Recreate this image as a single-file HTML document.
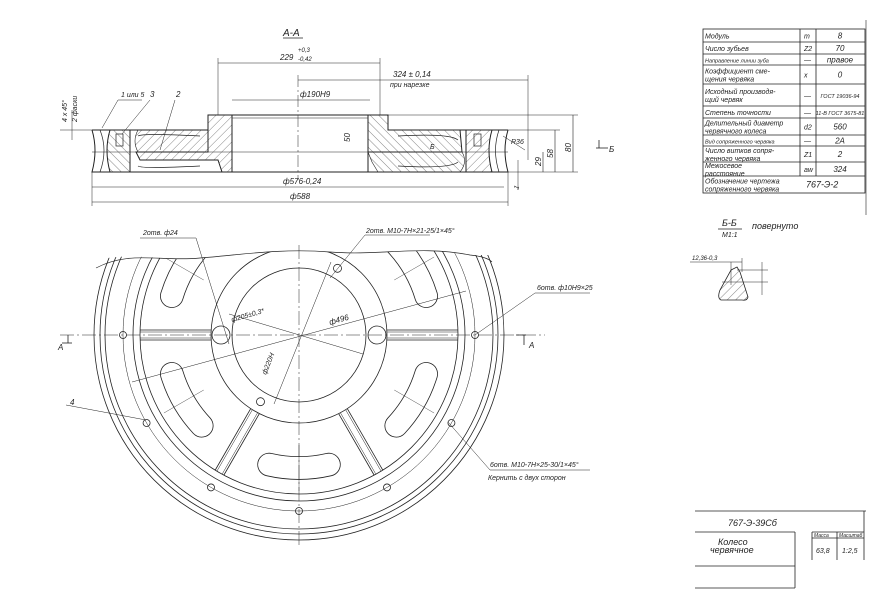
<!DOCTYPE html>
<html><head><meta charset="utf-8">
<style>
html,body{margin:0;padding:0;background:#fff}
svg{display:block}
text{font-family:"Liberation Sans","DejaVu Sans",sans-serif;font-style:italic;fill:#222}
</style></head><body>
<svg id="s" width="874" height="600" viewBox="0 0 874 600" xmlns="http://www.w3.org/2000/svg">
<defs>
<pattern id="h" width="6" height="6" patternUnits="userSpaceOnUse" patternTransform="rotate(45)"><line x1="0" y1="0" x2="0" y2="6" stroke="#333" stroke-width="0.6"/></pattern>
<pattern id="h2" width="6" height="6" patternUnits="userSpaceOnUse" patternTransform="rotate(-45)"><line x1="0" y1="0" x2="0" y2="6" stroke="#333" stroke-width="0.6"/></pattern>
<clipPath id="cut"><path d="M90,262 C130,250 160,262 200,258 C240,255 280,248 330,252 C380,256 420,245 470,255 L500,255 L520,600 L60,600 Z"/></clipPath>
</defs>
<g fill="none" stroke="#222" stroke-width="1">
<text x="283" y="36" font-size="10" stroke="none">А-А</text>
<line x1="283" y1="38" x2="303" y2="38" stroke-width="0.7"/>
<path d="M208,115 H388 V130 H508 M208,115 V130 H92" />
<path d="M92,130 Q98,150 92,172 H508 Q502,150 508,130" />
<line x1="92" y1="152" x2="508" y2="152" stroke-width="0.6"/>
<line x1="232" y1="115" x2="232" y2="172"/>
<line x1="368" y1="115" x2="368" y2="172"/>
<line x1="232" y1="118" x2="368" y2="118" stroke-width="0.6"/>
<path d="M208,115 H232 V172 H222 L218,160 H140 L136,152 H208 Z" fill="url(#h)" />
<path d="M138,130 H208 V152 H138 Q132,141 138,130Z" fill="url(#h)" stroke-width="0.6"/>
<path d="M368,115 H388 V130 H460 L462,152 H368 Z" fill="url(#h2)"/>
<path d="M368,152 H462 Q468,162 460,172 H378 L372,162 Z" fill="url(#h2)" stroke-width="0.6"/>
<path d="M110,130 H130 V172 H110 Q104,150 110,130Z" fill="url(#h2)"/>
<path d="M466,130 H492 Q486,150 492,172 H466 Z" fill="url(#h)"/>
<path d="M138,136 Q142,133 200,136 M138,166 Q142,169 200,166" stroke-width="0.7"/>
<path d="M398,136 Q450,133 458,140 M398,166 Q450,169 458,162" stroke-width="0.7"/>
<rect x="116" y="134" width="7" height="12" stroke-width="0.7"/>
<rect x="474" y="134" width="7" height="12" stroke-width="0.7"/>
<path d="M100,130 Q108,150 100,172 M499,130 Q492,150 499,172" stroke-width="0.7"/>
<line x1="298" y1="75" x2="298" y2="180" stroke-width="0.5" stroke-dasharray="12,3,2,3"/>
<line x1="218" y1="63" x2="380" y2="63" stroke-width="0.6"/>
<line x1="218" y1="58" x2="218" y2="115" stroke-width="0.5"/>
<line x1="380" y1="58" x2="380" y2="115" stroke-width="0.5"/>
<line x1="298" y1="80" x2="528" y2="80" stroke-width="0.6"/>
<line x1="528" y1="75" x2="528" y2="160" stroke-width="0.5"/>
<line x1="232" y1="100" x2="370" y2="100" stroke-width="0.6"/>
<line x1="92" y1="187" x2="504" y2="187" stroke-width="0.6"/>
<line x1="92" y1="202" x2="508" y2="202" stroke-width="0.6"/>
<line x1="92" y1="172" x2="92" y2="206" stroke-width="0.5"/>
<line x1="508" y1="172" x2="508" y2="206" stroke-width="0.5"/>
<line x1="388" y1="115" x2="578" y2="115" stroke-width="0.5"/>
<line x1="508" y1="130" x2="560" y2="130" stroke-width="0.5"/>
<line x1="508" y1="172" x2="578" y2="172" stroke-width="0.5"/>
<line x1="573" y1="115" x2="573" y2="172" stroke-width="0.6"/>
<line x1="555" y1="130" x2="555" y2="172" stroke-width="0.6"/>
<line x1="543" y1="152" x2="543" y2="172" stroke-width="0.6"/>
<line x1="518" y1="160" x2="518" y2="190" stroke-width="0.5"/>
<line x1="72" y1="110" x2="72" y2="140" stroke-width="0.5"/>
<line x1="60" y1="130" x2="92" y2="130" stroke-width="0.5"/>
<line x1="596" y1="148" x2="608" y2="148" stroke-width="0.8"/>
<line x1="599" y1="140" x2="599" y2="148" stroke-width="0.8"/>
<line x1="102" y1="128" x2="118" y2="100" stroke-width="0.5"/><line x1="118" y1="100" x2="142" y2="100" stroke-width="0.5"/>
<line x1="122" y1="134" x2="150" y2="100" stroke-width="0.5"/>
<line x1="160" y1="150" x2="175" y2="100" stroke-width="0.5"/>
<line x1="503" y1="136" x2="525" y2="150" stroke-width="0.5"/>
</g>
<g stroke="none" font-size="8">
<text x="280" y="60">229</text><text x="298" y="52" font-size="6">+0,3</text><text x="298" y="61" font-size="6">-0,42</text>
<text x="393" y="77">324 ± 0,14</text><text x="390" y="87" font-size="7">при нарезке</text>
<text x="300" y="97">ф190Н9</text>
<text x="283" y="184">ф576-0,24</text>
<text x="290" y="199">ф588</text>
<text x="121" y="97" font-size="7">1 или 5</text><text x="150" y="97">3</text><text x="176" y="97">2</text>
<text x="430" y="149" font-size="7">Б</text>
<text x="511" y="144" font-size="7">R36</text>
<text transform="translate(350,142) rotate(-90)">50</text>
<text transform="translate(541,166) rotate(-90)">29</text>
<text transform="translate(553,158) rotate(-90)">58</text>
<text transform="translate(571,152) rotate(-90)">80</text>
<text transform="translate(518,190) rotate(-70)" font-size="7">1</text>
<text transform="translate(67,122) rotate(-90)" font-size="7">4 x 45°</text>
<text transform="translate(77,122) rotate(-90)" font-size="7">2 фаски</text>
<text x="609" y="152">Б</text>
<text x="722" y="226" font-size="9">Б-Б</text><text x="752" y="229" font-size="9">повернуто</text>
<text x="722" y="237" font-size="7">М1:1</text>
<text x="692" y="260" font-size="6">12,36-0,3</text>
</g>
<g fill="none" stroke="#222" stroke-width="0.8">
<line x1="718" y1="229" x2="742" y2="229"/>
<path d="M731,270 L737,267 L740,272 L748,297 Q747,301 742,300 H721 Q717,298 720,290 Z" fill="url(#h)"/>
<line x1="690" y1="262" x2="742" y2="262" stroke-width="0.5"/>
<line x1="731" y1="262" x2="731" y2="285" stroke-width="0.5"/>
<line x1="742" y1="258" x2="742" y2="272" stroke-width="0.5"/>
<line x1="737" y1="270" x2="768" y2="270" stroke-width="0.5"/>
<line x1="722" y1="282" x2="768" y2="282" stroke-width="0.5"/>
<line x1="762" y1="262" x2="762" y2="295" stroke-width="0.5"/>
</g>
<g id="plan" fill="none" stroke="#222" stroke-width="0.8" clip-path="url(#cut)"></g>
<g fill="none" stroke="#222" stroke-width="0.8">
<path d="M96,268 C130,250 160,262 200,258 C240,255 280,248 330,252 C380,256 420,245 470,255 C480,256 488,258 492,262" stroke-width="0.7"/>
<line x1="60" y1="335" x2="545" y2="335" stroke-width="0.5" stroke-dasharray="14,3,2,3"/>
<line x1="299" y1="245" x2="299" y2="548" stroke-width="0.5" stroke-dasharray="14,3,2,3"/>
<line x1="62" y1="343" x2="72" y2="343"/><line x1="68" y1="335" x2="68" y2="343"/>
<line x1="516" y1="335" x2="526" y2="335"/><line x1="524" y1="335" x2="524" y2="345"/>
<line x1="140" y1="238" x2="196" y2="238" stroke-width="0.5"/><line x1="196" y1="238" x2="229" y2="344" stroke-width="0.5"/>
<line x1="365" y1="235" x2="430" y2="235" stroke-width="0.5"/><line x1="365" y1="235" x2="330" y2="278" stroke-width="0.5"/>
<line x1="535" y1="293" x2="590" y2="293" stroke-width="0.5"/><line x1="535" y1="293" x2="475" y2="335" stroke-width="0.5"/>
<line x1="490" y1="470" x2="590" y2="470" stroke-width="0.5"/><line x1="490" y1="470" x2="448" y2="422" stroke-width="0.5"/>
<line x1="66" y1="405" x2="146" y2="420" stroke-width="0.5"/>
<line x1="132" y1="382" x2="466" y2="291" stroke-width="0.5"/>
<line x1="229" y1="314" x2="363" y2="354" stroke-width="0.5"/>
<line x1="274" y1="404" x2="331" y2="262" stroke-width="0.5"/>
</g>
<g stroke="none" font-size="7">
<text x="143" y="235">2отв. ф24</text>
<text x="366" y="233">2отв. М10-7Н×21-25/1×45°</text>
<text x="537" y="290">6отв. ф10Н9×25</text>
<text x="490" y="467">6отв. М10-7Н×25-30/1×45°</text>
<text x="488" y="480">Кернить с двух сторон</text>
<text x="70" y="405" font-size="8">4</text>
<text x="58" y="350" font-size="8">А</text><text x="529" y="348" font-size="8">А</text>
<text transform="translate(232,322) rotate(-16)">ф205±0,3*</text>
<text transform="translate(330,325) rotate(-16)" font-size="8">ф496</text>
<text transform="translate(266,375) rotate(-68)">ф220Н</text>
</g>
<g fill="none" stroke="#222" stroke-width="0.8">
<rect x="703" y="29" width="162" height="164"/>
<line x1="800" y1="29" x2="800" y2="176"/><line x1="816" y1="29" x2="816" y2="176"/>
<line x1="866" y1="20" x2="866" y2="215" stroke-width="0.6"/>
</g>
<g id="tbl" stroke="none" font-size="7"></g>
<g fill="none" stroke="#222" stroke-width="0.8">
<line x1="695" y1="511" x2="866" y2="511"/>
<line x1="695" y1="532" x2="795" y2="532"/><line x1="812" y1="532" x2="864" y2="532"/>
<line x1="795" y1="532" x2="795" y2="588"/>
<line x1="695" y1="566" x2="795" y2="566"/><line x1="695" y1="588" x2="795" y2="588"/>
<line x1="864" y1="511" x2="864" y2="560"/>
<line x1="812" y1="532" x2="812" y2="560"/><line x1="837" y1="532" x2="837" y2="560"/>
<line x1="812" y1="538" x2="864" y2="538"/>
</g>
<g stroke="none">
<text x="728" y="526" font-size="9">767-Э-39Сб</text>
<text x="718" y="545" font-size="9">Колесо</text><text x="710" y="553" font-size="9">червячное</text>
<text x="814" y="537" font-size="5">Масса</text><text x="839" y="537" font-size="5">Масштаб</text>
<text x="816" y="553" font-size="7">63,8</text><text x="842" y="553" font-size="7">1:2,5</text>
</g>
</svg>
<script>
var NS="http://www.w3.org/2000/svg",cx=299,cy=335;
function el(p,t,a){var e=document.createElementNS(NS,t);for(var k in a)e.setAttribute(k,a[k]);p.appendChild(e);return e;}
var g=document.getElementById('plan');
[205,199,194,176,166,159,88,67].forEach(function(r,i){el(g,'circle',{cx:cx,cy:cy,r:r,'stroke-width':(r==176?0.5:0.8)});});
function P(r,a){a=a*Math.PI/180;return [cx+r*Math.cos(a),cy+r*Math.sin(a)];}
[0,180,60,120].forEach(function(a){
 [-5,-3,3,5].forEach(function(o){
  var d=Math.asin(o/88)*180/Math.PI, d2=Math.asin(o/159)*180/Math.PI;
  var p1=P(88,a+d),p2=P(159,a+d2);
  el(g,'line',{x1:p1[0],y1:p1[1],x2:p2[0],y2:p2[1],'stroke-width':(Math.abs(o)==3?0.5:0.8)});
 });
});
[90,150,30,210,330].forEach(function(a){
 var p1=P(133,a-13),p2=P(133,a+13);
 var d="M"+p1[0]+","+p1[1]+" A133,133 0 0 1 "+p2[0]+","+p2[1];
 el(g,'path',{d:d,'stroke-width':23.6,'stroke-linecap':'round'});
 el(g,'path',{d:d,'stroke-width':22,stroke:'#fff','stroke-linecap':'round'});
 var q1=P(110,a),q2=P(156,a);
 el(g,'line',{x1:q1[0],y1:q1[1],x2:q2[0],y2:q2[1],'stroke-width':0.4});
});
[0,30,60,90,120,150,180].forEach(function(a){var p=P(176,a);el(g,'circle',{cx:p[0],cy:p[1],r:3.5});});
[0,180].forEach(function(a){var p=P(78,a);el(g,'circle',{cx:p[0],cy:p[1],r:9});});
[120,300].forEach(function(a){var p=P(77,a);el(g,'circle',{cx:p[0],cy:p[1],r:4});});
var rows=[["Модуль","m","8",29,42],["Число зубьев","Z2","70",42,54],["Направление линии зуба","—","правое",54,65],["Коэффициент сме-|щения червяка","x","0",65,84],["Исходный производя-|щий червяк","—","ГОСТ 19036-94",84,106],["Степень точности","—","11-В ГОСТ 3675-81",106,118],["Делительный диаметр|червячного колеса","d2","560",118,135],["Вид сопряженного червяка","—","2А",135,146],["Число витков сопря-|женного червяка","Z1","2",146,162],["Межосевое|расстояние","aw","324",162,176],["Обозначение чертежа|сопряженного червяка","","767-Э-2",176,193]];
var t=document.getElementById('tbl'),s=document.getElementById('s');
rows.forEach(function(r,i){
 if(i>0)el(s,'line',{x1:703,y1:r[3],x2:865,y2:r[3],stroke:'#222','stroke-width':0.8});
 var ls=r[0].split('|'),h=r[4]-r[3];
 ls.forEach(function(l,j){var y=ls.length==1?r[3]+h/2+3:r[3]+h/2-1+j*8;var e=el(t,'text',{x:705,y:y,'font-size':(l.length>20?5.5:7)});e.textContent=l;});
 var e=el(t,'text',{x:804,y:r[3]+h/2+3});e.textContent=r[1];
 var v=el(t,'text',{x:(i==10?806:840),y:r[3]+h/2+3,'text-anchor':(i==10?'start':'middle'),'font-size':(r[2].length>8?5.5:(i==10?9:8))});v.textContent=r[2];
});
</script>
</body></html>
